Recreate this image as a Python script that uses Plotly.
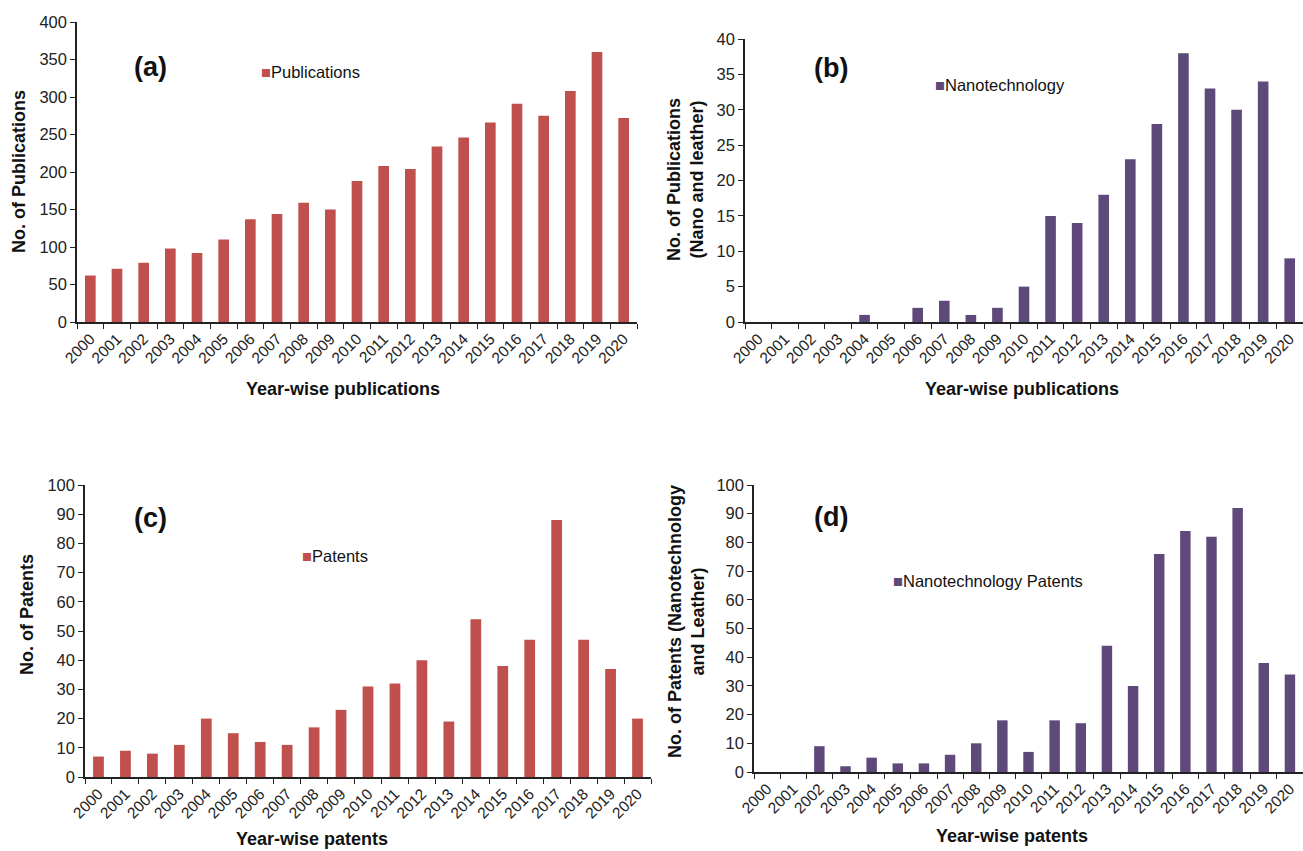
import plotly.graph_objects as go

W, H = 1303, 851

years = [str(y) for y in range(2000, 2021)]
publications = [62, 71, 79, 98, 92, 110, 137, 144, 159, 150, 188, 208, 204, 234, 246, 266, 291, 275, 308, 360, 272]
nano_pubs = [0, 0, 0, 0, 1, 0, 2, 3, 1, 2, 5, 15, 14, 18, 23, 28, 38, 33, 30, 34, 9]
patents = [7, 9, 8, 11, 20, 15, 12, 11, 17, 23, 31, 32, 40, 19, 54, 38, 47, 88, 47, 37, 20]
nano_patents = [0, 0, 9, 2, 5, 3, 3, 6, 10, 18, 7, 18, 17, 44, 30, 76, 84, 82, 92, 38, 34]

RED = "#C0504D"
PURPLE = "#5F497A"
FONT = "Liberation Sans, Arial, sans-serif"


def px(x):
    return x / W


def py(y):
    return 1 - y / H


panels = [
    # data, color, xaxis, yaxis, xdomain(px), ydomain(px top,bottom), y max, dtick
    (publications, RED, "x", "y", (77, 637), (22, 322), 400, 50),
    (nano_pubs, PURPLE, "x2", "y2", (745, 1306), (39, 322), 40, 5),
    (patents, RED, "x3", "y3", (85, 651), (485, 777), 100, 10),
    (nano_patents, PURPLE, "x4", "y4", (754, 1310), (485, 772), 100, 10),
]

fig = go.Figure()
layout = dict(
    width=W, height=H,
    margin=dict(l=0, r=0, t=0, b=0, autoexpand=False),
    paper_bgcolor="white", plot_bgcolor="white",
    showlegend=False,
    font=dict(family=FONT, size=15, color="#222"),
    bargap=0.6,
)

for i, (vals, col, xa, ya, xd, yd, ymax, dt) in enumerate(panels):
    fig.add_trace(go.Bar(x=years, y=vals, marker=dict(color=col, line=dict(width=0)),
                         xaxis=xa, yaxis=ya, cliponaxis=False))
    suffix = "" if i == 0 else str(i + 1)
    layout["xaxis" + suffix] = dict(
        domain=[px(xd[0]), min(1.0, px(xd[1]))], anchor=ya,
        type="category", tickson="boundaries", ticks="outside", ticklen=5,
        tickcolor="#222", showline=True, linecolor="#222", linewidth=1.5,
        tickangle=-45, tickfont=dict(size=15.5, color="#222"), showgrid=False,
        zeroline=False, automargin=False,
    )
    layout["yaxis" + suffix] = dict(
        domain=[py(yd[1]), py(yd[0])], anchor=xa,
        range=[0, ymax], dtick=dt, ticks="outside", ticklen=5, tickcolor="#222",
        showline=True, linecolor="#222", linewidth=1.5, showgrid=False, zeroline=False,
        tickfont=dict(size=16.5, color="#222"), automargin=False,
    )

fig.update_layout(**layout)

ann = []


def add_text(x, y, text, size=15, bold=False, angle=0, xanchor="center", yanchor="middle"):
    t = f"<b>{text}</b>" if bold else text
    ann.append(dict(x=px(x), y=py(y), xref="paper", yref="paper", text=t, showarrow=False,
                    textangle=angle, xanchor=xanchor, yanchor=yanchor,
                    font=dict(family=FONT, size=size, color="#111")))


# panel labels
add_text(150, 67, "(a)", size=27, bold=True)
add_text(831, 68, "(b)", size=27, bold=True)
add_text(150, 518, "(c)", size=27, bold=True)
add_text(831, 517, "(d)", size=27, bold=True)

# legends
add_text(259, 72, f"<span style='color:{RED}'>■</span>Publications", size=16.5, xanchor="left")
add_text(933, 85, f"<span style='color:{PURPLE}'>■</span>Nanotechnology", size=16.5, xanchor="left")
add_text(300, 556, f"<span style='color:{RED}'>■</span>Patents", size=16.5, xanchor="left")
add_text(891, 581, f"<span style='color:{PURPLE}'>■</span>Nanotechnology Patents", size=16.5, xanchor="left")

# x axis titles
add_text(343, 389, "Year-wise publications", size=18, bold=True)
add_text(1022, 389, "Year-wise publications", size=18, bold=True)
add_text(312, 839, "Year-wise patents", size=18, bold=True)
add_text(1012, 836, "Year-wise patents", size=18, bold=True)

# y axis titles
add_text(19, 172, "No. of Publications", size=18, bold=True, angle=-90)
add_text(686, 180, "No. of Publications<br>(Nano and leather)", size=18, bold=True, angle=-90)
add_text(27, 615, "No. of Patents", size=18, bold=True, angle=-90)
add_text(686, 622, "No. of Patents (Nanotechnology<br>and Leather)", size=18, bold=True, angle=-90)

fig.update_layout(annotations=ann)
fig.write_html("out.html", config={"displayModeBar": False},
               post_script="document.body.style.margin='0px';")
